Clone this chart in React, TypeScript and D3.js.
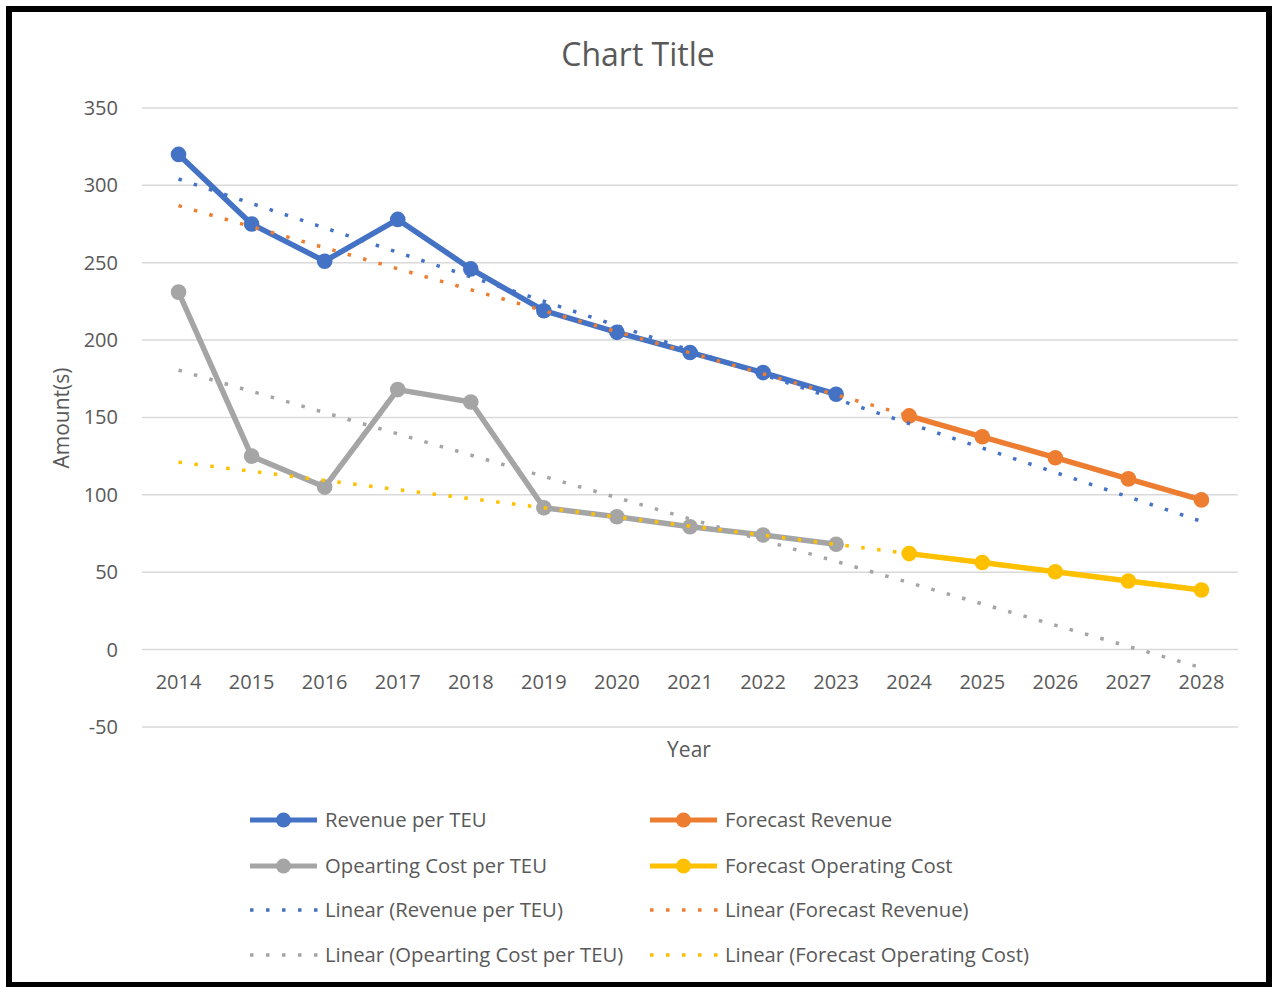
import React from 'react';
import * as d3 from 'd3';

const years = [2014, 2015, 2016, 2017, 2018, 2019, 2020, 2021, 2022, 2023, 2024, 2025, 2026, 2027, 2028];
const revenuePerTEU = [320, 275, 251, 278, 246, 219, 205, 192, 179, 165];
const operatingCostPerTEU = [231, 125, 105, 168, 160, 91.6, 85.8, 79.4, 74, 68];
const forecastRevenue = [151, 137.5, 124, 110.3, 96.7];
const forecastOperatingCost = [62, 56.3, 50.3, 44.3, 38.5];
const yTicks = [-50, 0, 50, 100, 150, 200, 250, 300, 350];

const BLUE = '#4472C4';
const ORANGE = '#ED7D31';
const GRAY = '#A5A5A5';
const YELLOW = '#FFC000';
const TEXT = '#595959';
const FONT = "'Open Sans', 'Noto Sans', sans-serif";

// series: name, colour, first year index, values
const series = [
  { name: 'Revenue per TEU', color: BLUE, start: 0, values: revenuePerTEU },
  { name: 'Opearting Cost per TEU', color: GRAY, start: 0, values: operatingCostPerTEU },
  { name: 'Forecast Revenue', color: ORANGE, start: 10, values: forecastRevenue },
  { name: 'Forecast Operating Cost', color: YELLOW, start: 10, values: forecastOperatingCost },
];

// excel style linear trendline (least squares on category index)
function linearFit(start: number, values: number[]) {
  const xs = values.map((_, i) => start + i + 1);
  const mx = d3.mean(xs) as number;
  const my = d3.mean(values) as number;
  const sxy = d3.sum(xs, (x, i) => (x - mx) * (values[i] - my));
  const sxx = d3.sum(xs, x => (x - mx) * (x - mx));
  const slope = sxy / sxx;
  return (x: number) => my + slope * (x - mx);
}

export default function App() {
  const width = 1272;
  const height = 987;

  const x = d3.scaleBand<number>().domain(years).range([142, 1238]);
  const cx = (yr: number) => (x(yr) as number) + x.bandwidth() / 2;
  const y = d3.scaleLinear().domain([-50, 350]).range([726.9, 108]);

  const line = d3.line<[number, number]>().x(d => cx(d[0])).y(d => y(d[1]));

  const dots = '3.5 12.5';

  const trend = series.map(s => {
    const f = linearFit(s.start, s.values);
    return {
      color: s.color,
      pts: [years[0], years[years.length - 1]].map(yr => [yr, f(years.indexOf(yr) + 1)] as [number, number]),
    };
  });

  const legendItems = [
    { label: 'Revenue per TEU', color: BLUE, solid: true },
    { label: 'Forecast Revenue', color: ORANGE, solid: true },
    { label: 'Opearting Cost per TEU', color: GRAY, solid: true },
    { label: 'Forecast Operating Cost', color: YELLOW, solid: true },
    { label: 'Linear (Revenue per TEU)', color: BLUE, solid: false },
    { label: 'Linear (Forecast Revenue)', color: ORANGE, solid: false },
    { label: 'Linear (Opearting Cost per TEU)', color: GRAY, solid: false },
    { label: 'Linear (Forecast Operating Cost)', color: YELLOW, solid: false },
  ];
  const legendRows = [820, 866, 910, 955];
  const legendCols = [250, 650];

  return (
    <svg width={width} height={height} style={{ position: 'absolute', left: 0, top: 0, fontFamily: FONT }}>
      <rect x={0} y={0} width={width} height={height} fill="#fff" />
      <rect x={9} y={9} width={1260} height={976} fill="none" stroke="#000" strokeWidth={6} />

      <text x={638} y={66} textAnchor="middle" fontSize={32} fill={TEXT}>Chart Title</text>

      {/* gridlines + y labels */}
      {yTicks.map(t => (
        <g key={t}>
          <line x1={142} x2={1238} y1={y(t)} y2={y(t)} stroke="#D9D9D9" strokeWidth={1.5} />
          <text x={118} y={y(t) + 7} textAnchor="end" fontSize={20} fill={TEXT}>{t}</text>
        </g>
      ))}

      {years.map(yr => (
        <text key={yr} x={cx(yr)} y={689} textAnchor="middle" fontSize={20} fill={TEXT}>{yr}</text>
      ))}

      <text transform={`translate(69,418) rotate(-90)`} textAnchor="middle" fontSize={21} fill={TEXT}>Amount(s)</text>
      <text x={689} y={757} textAnchor="middle" fontSize={21} fill={TEXT}>Year</text>

      {/* series */}
      {series.map(s => {
        const pts = s.values.map((v, i) => [years[s.start + i], v] as [number, number]);
        return (
          <g key={s.name}>
            <path d={line(pts) as string} fill="none" stroke={s.color} strokeWidth={5.5} strokeLinejoin="round" />
            {pts.map(p => (
              <circle key={p[0]} cx={cx(p[0])} cy={y(p[1])} r={7.8} fill={s.color} />
            ))}
          </g>
        );
      })}

      {/* trendlines */}
      {trend.map((t, i) => (
        <path key={i} d={line(t.pts) as string} fill="none" stroke={t.color} strokeWidth={3.5} strokeDasharray={dots} />
      ))}

      {/* legend */}
      {legendItems.map((it, i) => {
        const lx = legendCols[i % 2];
        const ly = legendRows[Math.floor(i / 2)];
        return (
          <g key={it.label}>
            {it.solid ? (
              <>
                <line x1={lx} x2={lx + 67} y1={ly} y2={ly} stroke={it.color} strokeWidth={5} />
                <circle cx={lx + 33.5} cy={ly} r={7.5} fill={it.color} />
              </>
            ) : (
              <line x1={lx} x2={lx + 68} y1={ly} y2={ly} stroke={it.color} strokeWidth={3.5} strokeDasharray={dots} />
            )}
            <text x={lx + 75} y={ly + 7} fontSize={20.3} fill={TEXT}>{it.label}</text>
          </g>
        );
      })}
    </svg>
  );
}
